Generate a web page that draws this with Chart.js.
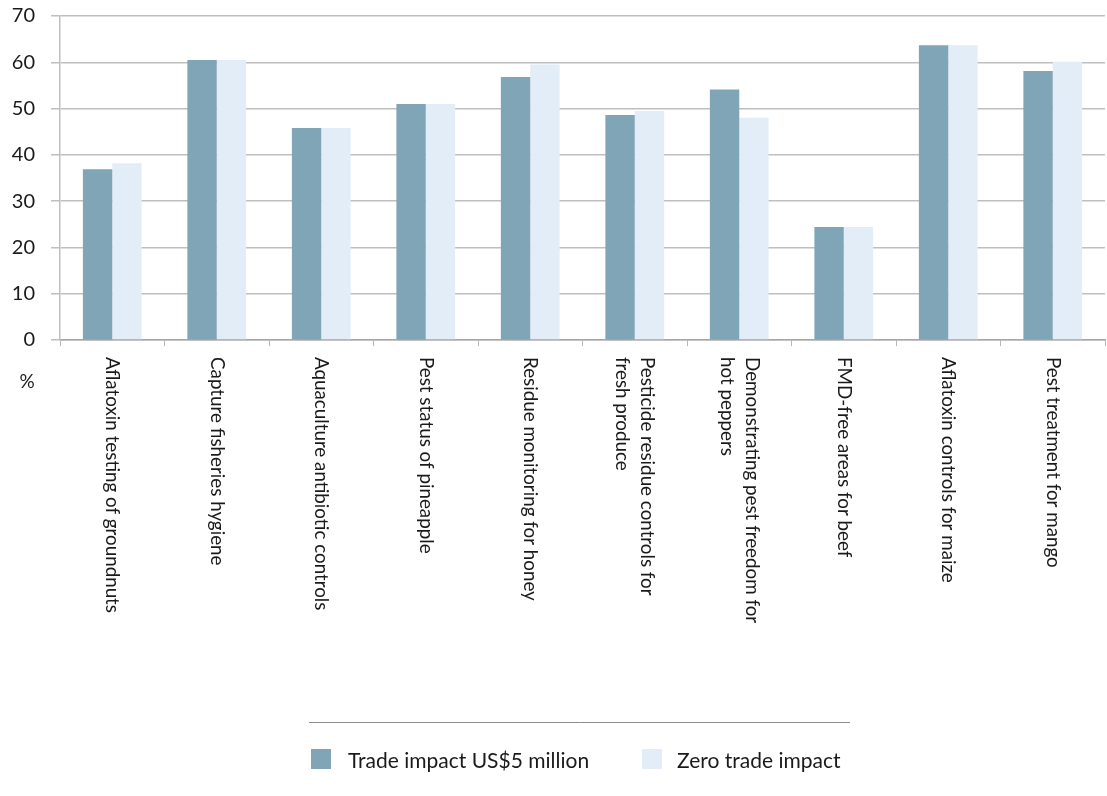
<!DOCTYPE html>
<html>
<head>
<meta charset="utf-8">
<script src="https://cdn.jsdelivr.net/npm/chart.js@4.4.1/dist/chart.umd.min.js"></script>
<style>
  html, body { margin: 0; padding: 0; background: #fff; }
  #wrap { width: 1107px; height: 796px; position: relative; }
</style>
</head>
<body>
<div id="wrap"><canvas id="myBarChart" width="1107" height="796"></canvas></div>
<script>
const categories = [
  ["Aflatoxin testing of groundnuts"],
  ["Capture fisheries hygiene"],
  ["Aquaculture antibiotic controls"],
  ["Pest status of pineapple"],
  ["Residue monitoring for honey"],
  ["Pesticide residue controls for", "fresh produce"],
  ["Demonstrating pest freedom for", "hot peppers"],
  ["FMD-free areas for beef"],
  ["Aflatoxin controls for maize"],
  ["Pest treatment for mango"],
];
const tradeImpact = [36.9, 60.5, 45.8, 51.0, 56.8, 48.6, 54.1, 24.4, 63.7, 58.1];
const zeroImpact = [38.2, 60.5, 45.8, 51.0, 59.5, 49.5, 48.0, 24.4, 63.7, 60.1];
const seriesNames = ["Trade impact US$5 million", "Zero trade impact"];
const seriesColors = ["#80a5b6", "#e2edf8"];
const yTicks = [0, 10, 20, 30, 40, 50, 60, 70];

const FONT = "Lato, 'Open Sans', sans-serif";

// rotated category labels (reading top to bottom) + "%" + legend
const extrasPlugin = {
  id: "extras",
  afterDraw(chart) {
    const ctx = chart.ctx;
    const x = chart.scales.x;
    const area = chart.chartArea;
    ctx.save();
    ctx.fillStyle = "#1a1a1a";
    ctx.font = "18.8px " + FONT;
    ctx.textAlign = "left";
    ctx.textBaseline = "middle";
    const lineH = 25;
    categories.forEach((lines, i) => {
      const px = x.getPixelForValue(i);
      ctx.save();
      ctx.translate(px, area.bottom + 17);
      ctx.rotate(Math.PI / 2);
      lines.forEach((t, k) => {
        const off = (k - (lines.length - 1) / 2) * lineH;
        ctx.fillText(t, 0, off);
      });
      ctx.restore();
    });

    // unit label under the y axis
    ctx.font = "19px " + FONT;
    ctx.textAlign = "center";
    ctx.fillText("%", 27, 382);

    // legend
    ctx.strokeStyle = "#8c8c8c";
    ctx.lineWidth = 1;
    ctx.beginPath();
    ctx.moveTo(309, 722.5);
    ctx.lineTo(850, 722.5);
    ctx.stroke();

    ctx.font = "21px " + FONT;
    ctx.textAlign = "left";
    const boxX = [311, 642];
    const textX = [348, 677];
    seriesNames.forEach((name, k) => {
      ctx.fillStyle = seriesColors[k];
      ctx.fillRect(boxX[k], 749, 20, 20);
      ctx.fillStyle = "#1a1a1a";
      ctx.fillText(name, textX[k], 761);
    });
    ctx.restore();
  },
};

const ctx = document.getElementById("myBarChart").getContext("2d");
const myBarChart = new Chart(ctx, {
  type: "bar",
  data: {
    labels: categories.map((c) => c.join(" ")),
    datasets: [
      {
        label: seriesNames[0],
        data: tradeImpact,
        backgroundColor: seriesColors[0],
        categoryPercentage: 0.562,
        barPercentage: 1.0,
      },
      {
        label: seriesNames[1],
        data: zeroImpact,
        backgroundColor: seriesColors[1],
        categoryPercentage: 0.562,
        barPercentage: 1.0,
      },
    ],
  },
  options: {
    responsive: false,
    animation: false,
    layout: { padding: { top: 16, right: 2, left: 0, bottom: 0 } },
    plugins: {
      legend: { display: false },
      tooltip: { enabled: false },
    },
    scales: {
      x: {
        grid: {
          offset: true,
          drawOnChartArea: false,
          drawTicks: true,
          tickLength: 6,
          color: "#b5b5b5",
        },
        border: { color: "#a6a6a6", width: 1.5 },
        ticks: { display: false },
        afterFit(scale) {
          scale.height = 796 - 340;
        },
      },
      y: {
        min: 0,
        max: 70,
        afterBuildTicks(scale) {
          scale.ticks = yTicks.map((v) => ({ value: v }));
        },
        grid: {
          color: "#bfbfbf",
          lineWidth: 1.5,
          tickLength: 9,
        },
        border: { color: "#bfbfbf", width: 1.5 },
        ticks: {
          color: "#1a1a1a",
          font: { family: FONT, size: 20 },
          padding: 16,
        },
        afterFit(scale) {
          scale.width = 60;
          scale.paddingTop = 0;
          scale.paddingBottom = 0;
        },
      },
    },
  },
  plugins: [extrasPlugin],
});
</script>
</body>
</html>
